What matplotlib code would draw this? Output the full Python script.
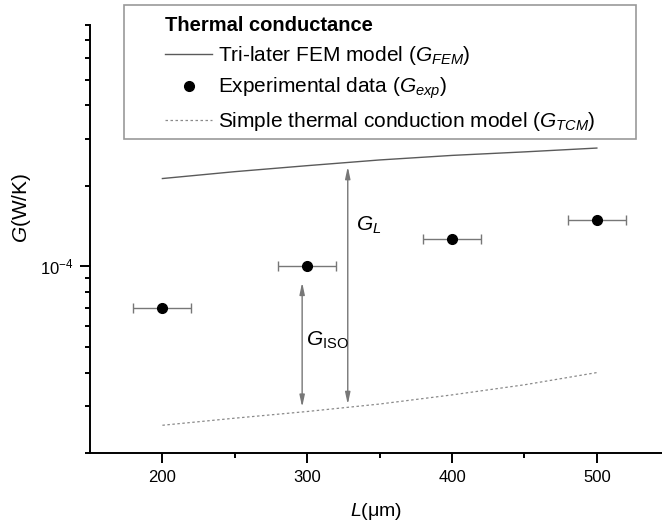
import numpy as np
import matplotlib
matplotlib.use("Agg")
import matplotlib.pyplot as plt
from matplotlib.lines import Line2D
from matplotlib.patches import Rectangle
from matplotlib.ticker import LogLocator, NullFormatter, FixedLocator

plt.rcParams['font.family'] = ['Liberation Sans', 'DejaVu Sans']
plt.rcParams['mathtext.fontset'] = 'custom'
plt.rcParams['mathtext.rm'] = 'Liberation Sans'
plt.rcParams['mathtext.it'] = 'Liberation Sans:italic'

# data
L_model = [200, 250, 300, 350, 400, 450, 500]
G_fem = [2.13e-4, 2.26e-4, 2.38e-4, 2.50e-4, 2.60e-4, 2.68e-4, 2.77e-4]
G_tcm = [2.54e-5, 2.70e-5, 2.86e-5, 3.05e-5, 3.30e-5, 3.60e-5, 4.00e-5]

L_exp = [200, 300, 400, 500]
G_exp = [7.0e-5, 1.0e-4, 1.27e-4, 1.49e-4]
L_err = [20, 20, 20, 20]

# annotation arrows (x, y_top, y_bottom)
iso_arrow = (296.5, 8.7e-5, 2.97e-5)
l_arrow = (328, 2.36e-4, 3.04e-5)

fig = plt.figure(figsize=(6.62, 5.26), dpi=100)
ax = fig.add_axes([90 / 662, 1 - 453 / 526, 572 / 662, 428 / 526])

fem_line, = ax.plot(L_model, G_fem, '-', color='#5a5a5a', lw=1.0)
ax.errorbar(L_exp, G_exp, xerr=L_err, fmt='o', color='black', ms=7,
            ecolor='#777777', elinewidth=1.0, capsize=3.5, capthick=1.0)
tcm_line, = ax.plot(L_model, G_tcm, linestyle=(0, (2, 2)), color='#8a8a8a', lw=0.9)
exp_proxy = Line2D([], [], ls='none', marker='o', color='black', ms=7)

arrow_style = dict(arrowstyle='<|-|>,head_length=0.7,head_width=0.15', color='#777777',
                   lw=1.0, shrinkA=0, shrinkB=0)
ax.annotate('', xy=(iso_arrow[0], iso_arrow[1]), xytext=(iso_arrow[0], iso_arrow[2]),
            arrowprops=arrow_style)
ax.annotate('', xy=(l_arrow[0], l_arrow[1]), xytext=(l_arrow[0], l_arrow[2]),
            arrowprops=arrow_style)
ax.text(299, 5.3e-5, r'$G_{\mathrm{ISO}}$', fontsize=15, va='center', ha='left')
ax.text(334, 1.42e-4, r'$G_{L}$', fontsize=15, va='center', ha='left')

ax.set_yscale('log')
ax.set_xlim(150, 545)
ax.set_ylim(2e-5, 8e-4)
ax.xaxis.set_major_locator(FixedLocator([200, 300, 400, 500]))
ax.xaxis.set_minor_locator(FixedLocator([250, 350, 450]))
ax.yaxis.set_major_locator(FixedLocator([1e-4]))
ax.yaxis.set_minor_locator(LogLocator(base=10, subs=np.arange(2, 10)))
ax.yaxis.set_minor_formatter(NullFormatter())
ax.set_yticklabels([r'$10^{-4}$'])

for s in ['top', 'right']:
    ax.spines[s].set_visible(False)
for s in ['left', 'bottom']:
    ax.spines[s].set_linewidth(1.4)
ax.tick_params(which='major', direction='out', length=7, width=1.4, labelsize=12, pad=5)
ax.tick_params(which='minor', direction='out', length=3.6, width=1.4)

ax.set_xlabel(r'$L$(μm)', fontsize=14, labelpad=12)
ax.set_ylabel(r'$G$(W/K)', fontsize=15)
ax.yaxis.set_label_coords(-0.0997, 0.572)

# legend box drawn separately so the padding matches
fig.add_artist(Rectangle((124 / 662, 1 - 139 / 526), 512 / 662, 134 / 526,
                         transform=fig.transFigure, fill=False, edgecolor='#999999', lw=1.2))
leg = ax.legend([fem_line, exp_proxy, tcm_line],
                [r'Tri-later FEM model ($G_{FEM}$)', r'Experimental data ($G_{exp}$)',
                 r'Simple thermal conduction model ($G_{TCM}$)'],
                loc='upper left', bbox_to_anchor=(165 / 662, 1 - 16 / 526),
                bbox_transform=fig.transFigure, fontsize=15, frameon=False,
                title='Thermal conductance', title_fontproperties={'weight': 'bold', 'size': 14.5},
                alignment='left', handlelength=2.26, handletextpad=0.3,
                labelspacing=0.43, borderpad=0, borderaxespad=0)

fig.savefig('out.png', dpi=100)
